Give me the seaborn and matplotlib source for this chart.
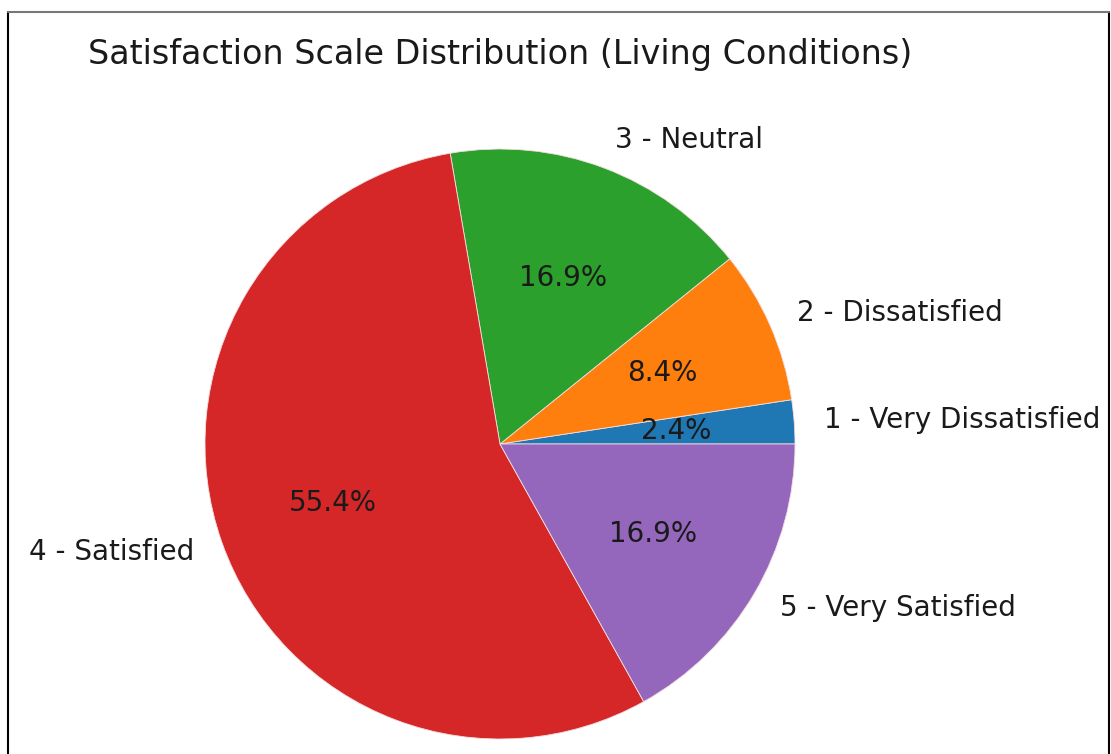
import matplotlib
matplotlib.use("Agg")
import matplotlib.pyplot as plt
from matplotlib.lines import Line2D
import seaborn as sns

# Satisfaction with living conditions (share of respondents, %)
labels = ["1 - Very Dissatisfied", "2 - Dissatisfied", "3 - Neutral",
          "4 - Satisfied", "5 - Very Satisfied"]
shares = [2.4, 8.4, 16.9, 55.4, 16.9]

sns.set_theme(style="white")
plt.rcParams["font.family"] = ["DejaVu Sans"]

colors = sns.color_palette("tab10", len(labels))

fig = plt.figure(figsize=(11.11, 7.54), dpi=100)
W, H = 1111, 754
cx, cy, r = 500, 444, 295
ax = fig.add_axes([(cx - r) / W, 1 - (cy + r) / H, 2 * r / W, 2 * r / H])

wedges, texts, autotexts = ax.pie(shares, labels=labels, colors=colors,
                                  autopct="%1.1f%%", startangle=0,
                                  wedgeprops={"edgecolor": "#f4dede", "linewidth": 0.6},
                                  textprops={"fontsize": 20, "color": "#1a1a1a"})
ax.set_xlim(-1, 1)
ax.set_ylim(-1, 1)
ax.set_aspect("equal")
title = ax.set_title("Satisfaction Scale Distribution (Living Conditions)",
                     fontsize=24, color="#1a1a1a", pad=0,
                     y=1 + (149 - 64) / (2 * r))
title.set_va("baseline")

# thin frame around the screenshot
x0, x1, yt = 8 / W, 1109 / W, 1 - 12 / H
for xs, ys, c in [([x0, x0], [0, yt], "black"), ([x1, x1], [0, yt], "black"),
                  ([x0, x1], [yt, yt], "#777777")]:
    fig.add_artist(Line2D(xs, ys, transform=fig.transFigure, color=c, lw=1.5))

fig.savefig("out.png", dpi=100)
